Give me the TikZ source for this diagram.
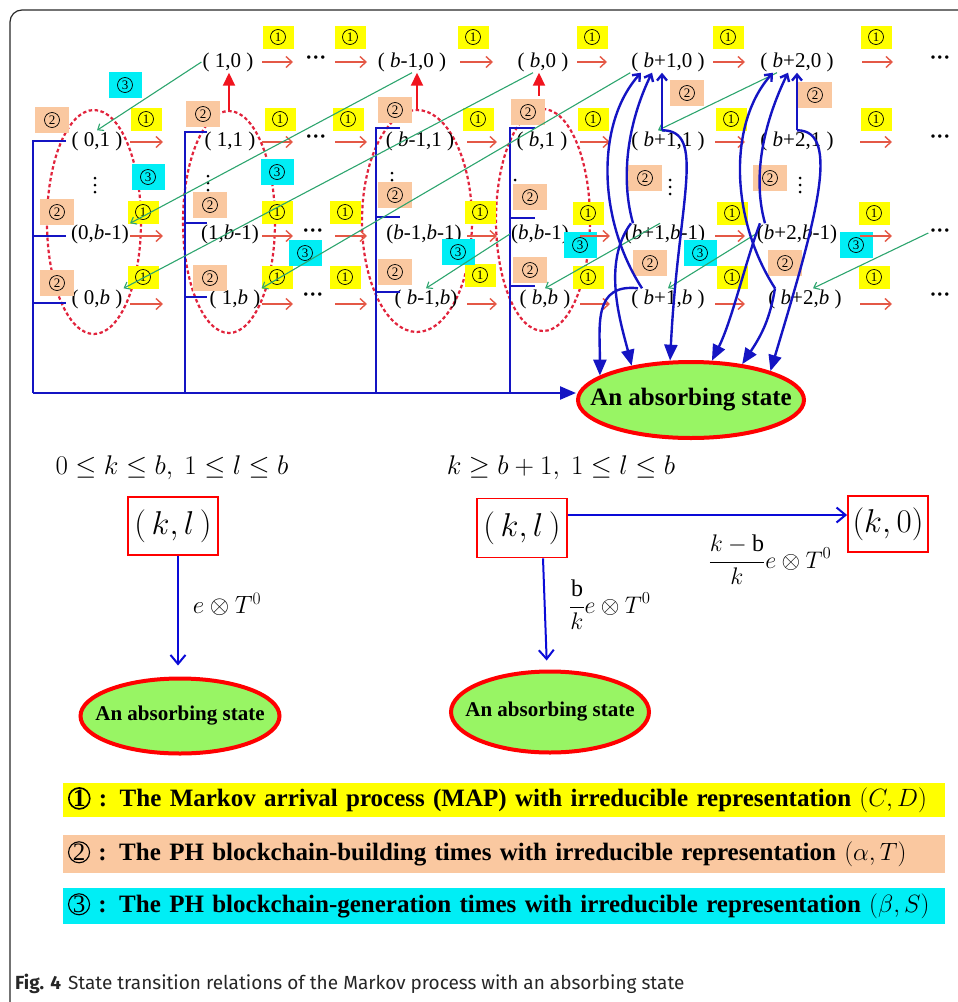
\RequirePackage{fix-cm}
\documentclass[tikz,border=0pt]{standalone}
\usepackage{fontspec}
\setmainfont{Liberation Serif}
\newfontfamily\capfont{Fira Sans}
\usetikzlibrary{arrows.meta,shapes.geometric,positioning}

\definecolor{tagyel}{RGB}{255,255,0}
\definecolor{tagpch}{RGB}{250,200,160}
\definecolor{tagcyan}{RGB}{0,238,245}
\definecolor{ringred}{RGB}{225,35,60}
\definecolor{arrred}{RGB}{228,88,70}
\definecolor{upred}{RGB}{240,20,30}
\definecolor{genline}{RGB}{45,165,110}
\definecolor{absblue}{RGB}{20,20,195}
\definecolor{abslime}{RGB}{152,245,100}
\definecolor{lowblue}{RGB}{10,10,215}
\definecolor{framecol}{RGB}{40,40,40}

% circled digit: line width, size, digit
\newcommand{\cdig}[3]{\tikz[baseline=-0.33em]\node[circle, draw, line width=#1, minimum size=#2, inner sep=0pt] {#3};}

\tikzset{
  st/.style={inner sep=1pt, font=\fontsize{21}{21}\selectfont},
  tag/.style={inner sep=0pt, font=\fontsize{13}{13}\selectfont},
  one/.style={tag, fill=tagyel, minimum width=31, minimum height=23},
  two/.style={tag, fill=tagpch, minimum width=34, minimum height=26},
  three/.style={tag, fill=tagcyan, minimum width=33, minimum height=26},
  ring/.style={ellipse, draw=ringred, line width=2.2pt, inner sep=0pt, dash pattern=on 3.5pt off 2.5pt},
  harr/.style={draw=arrred, line width=1.4pt, -{Straight Barb[length=6pt,width=11pt]}},
  uparr/.style={draw=upred, line width=2pt, -{Triangle[length=13pt,width=12pt]}},
  gen/.style={draw=genline, line width=1.1pt, -{Straight Barb[length=5pt,width=8pt]}},
  absln/.style={draw=absblue, line width=2.4pt},
  bup/.style={absln, -{Straight Barb[length=6pt,width=10pt]}},
  bdn/.style={absln, -{Triangle[length=16pt,width=13pt]}},
  absorb/.style={ellipse, draw=red, line width=4pt, fill=abslime, inner sep=0pt},
  kbox/.style={draw=red, line width=1.8pt, inner sep=0pt, font=\fontsize{33}{33}\selectfont},
  cond/.style={inner sep=0pt, font=\fontsize{27}{27}\selectfont},
  low/.style={draw=lowblue, line width=2pt, -{Straight Barb[length=9pt,width=15pt]}},
  legend/.style={minimum width=882, text width=872pt, inner xsep=5pt, inner ysep=0pt, align=left,
    font=\bfseries\fontsize{25}{25}\selectfont}
}

\begin{document}
\begin{tikzpicture}[x=1pt, y=-1pt]
\useasboundingbox (0,0) rectangle (958,1002);
\draw[framecol, line width=1.2pt, rounded corners=12pt] (10,1002) -- (10,10) -- (958,10);

% groups of one k
\node[ring, minimum width=94, minimum height=224] (c0) at (94,222) {};
\node[ring, minimum width=92, minimum height=222] (c1) at (229,222) {};
\node[ring, minimum width=110, minimum height=222] (cm) at (417,221) {};
\node[ring, minimum width=94, minimum height=222] (cb) at (543,220) {};

% states
\foreach \n/\x/\y/\t in {s10/228/62/{( 1,0 )}, sm0/412/62/{( \textit{b}-1,0 )}, sb0/543/62/{( \textit{b},0 )},
    sp0/668/62/{( \textit{b}+1,0 )}, sq0/797/62/{( \textit{b}+2,0 )},
    s01/97/141/{( 0,1 )}, s11/230/141/{( 1,1 )}, sm1/420/141/{( \textit{b}-1,1 )}, sb1/542/141/{( \textit{b},1 )},
    sp1/668/141/{( \textit{b}+1,1 )}, sq1/797/141/{( \textit{b}+2,1 )},
    s0m/100/234/{(0,\textit{b}-1)}, s1m/230/234/{(1,\textit{b}-1)}, smm/424/234/{(\textit{b}-1,\textit{b}-1)},
    sbm/540/234/{(\textit{b},\textit{b}-1)}, spm/665/234/{(\textit{b}+1,\textit{b}-1)}, sqm/797/234/{(\textit{b}+2,\textit{b}-1)},
    s0b/97/299/{( 0,\textit{b} )}, s1b/235/299/{( 1,\textit{b} )}, smb/426/299/{( \textit{b}-1,\textit{b})},
    sbb/545/299/{( \textit{b},\textit{b} )}, spb/668/299/{( \textit{b}+1,\textit{b} )}, sqb/805/299/{( \textit{b}+2,\textit{b} )}}
  \node[st] (\n) at (\x,\y) {\t};

\foreach \n/\x/\y in {d0/316/60, d1/316/139, dm/313/233, db/313/297, e0/940/60, e1/940/139, em/940/233, eb/940/297}
  \node[st] (\n) at (\x,\y) {\textbf{···}};
% vertical dots
\foreach \n/\x/\y in {v0/95/185, v1/208/183, vm/392/180, vp/670/187, vq/800/185} {
  \coordinate (\n) at (\x,\y);
  \foreach \d in {-7,0,7} \fill ([yshift=\d pt]\n) circle[radius=1.5pt];
}
\coordinate (vb) at (515,180);
\fill (vb) circle[radius=1.5pt];

% rates
\foreach \x/\y [count=\i] in {278/37, 350/37, 473/37, 592/37, 728/37, 876/37,
    146/119, 280/119, 348/119, 478/119, 593/119, 731/119, 876/119,
    143/212, 277/212, 345/212, 480/212, 588/213, 732/213, 874/213,
    143/277, 277/277, 345/277, 480/275, 588/277, 732/277, 874/277}
  \node[one] (o\i) at (\x,\y) {\cdig{0.7pt}{15pt}{1}};
\foreach \x/\y [count=\i] in {52/120, 57/212, 57/283, 203/114, 210/205, 210/278, 395/110, 395/195, 395/272,
    528/112, 530/197, 530/270, 687/93, 645/178, 650/263, 815/95, 770/178, 785/263}
  \node[two] (w\i) at (\x,\y) {\cdig{0.7pt}{15pt}{2}};
\foreach \x/\y [count=\i] in {125/85, 148/177, 277/172, 305/253, 458/252, 580/245, 700/253, 856/245}
  \node[three] (h\i) at (\x,\y) {\cdig{0.7pt}{15pt}{3}};

% red arrows
\foreach \a/\b in {262/293, 335/367, 460/493, 577/607, 713/745, 862/893}
  \draw[harr] (\a,62) -- (\b,62);
\foreach \y in {142,236,304}
  \foreach \a/\b in {130/163, 262/293, 335/367, 467/497, 580/610, 715/745, 860/892}
    \draw[harr] (\a,\y) -- (\b,\y);
\draw[uparr] (c1.north) -- (c1.north |- s10.south);
\draw[uparr] (cm.north) -- (cm.north |- sm0.south);
\draw[uparr, shorten <=12pt] ([xshift=-4]cb.north) -- ([xshift=-4]cb.north |- sb0.south);

% absorbing
\node[absorb, minimum width=226, minimum height=76, font=\bfseries\fontsize{25}{25}\selectfont] (abs) at (691,400)
  {\makebox[0pt]{An absorbing state}};
\coordinate (bl) at (33,393);
\foreach \x/\t/\m/\b/\w in {33/141/236/303/33, 185/132/223/297/22, 376/128/217/292/24, 510/128/218/286/25}
  \draw[absln] (\x+\w,\t) -- (\x,\t) -- (\x,393) (\x,\m) -- +(\w,0) (\x,\b) -- +(\w,0);
\draw[absln, -{Triangle[length=16pt,width=13pt]}] (bl) -- (bl -| abs.west);

% green
\draw[gen] (s10.west) -- (s01.north);
\draw[gen] (sm0.south) -- (s0m.north east);
\draw[gen] ([xshift=-10]sb0.south) -- (s0b.north east);
\draw[gen] (sp0.south west) -- (s1b.north east);
\draw[gen] ([xshift=-20]sq0.south) -- ([xshift=-10]sp1.north);
\draw[gen] (sbm.west) -- (smb.north);
\draw[gen] ([xshift=-5]spm.north) -- (sbb.north);
\draw[gen] (sqm.west) -- (spb.north);
\draw[gen] (em.west) -- ([xshift=8]sqb.north);

% b+1
\draw[bup] ([xshift=-6]sp1.north) -- ([xshift=-6]sp0.south);
\draw[bup] ([xshift=-32]spm.north) .. controls +(-14,-50) and +(-22,45) .. ([xshift=-16]sp0.south);
\draw[bup] ([xshift=-26]spb.north) .. controls +(-45,-70) and +(-45,50) .. ([xshift=-27]sp0.south);
\draw[bdn] ([xshift=-6]sp1.north) .. controls +(45,0) and +(8,-160) .. (abs.118);
\draw[bdn] ([xshift=-34]spm.north) .. controls +(-30,40) and +(-10,-40) .. (abs.150);
\draw[bdn] ([xshift=-30]spb.north) .. controls +(-45,-5) and +(0,-50) .. (abs.165);
% b+2
\draw[bup] (sq1.north) -- (sq0.south);
\draw[bup] ([xshift=-32]sqm.north) .. controls +(-14,-50) and +(-22,45) .. ([xshift=-9]sq0.south);
\draw[bup] ([xshift=-30]sqb.north) .. controls +(-45,-70) and +(-45,50) .. ([xshift=-24]sq0.south);
\draw[bdn] (sq1.north) .. controls +(45,0) and +(45,-150) .. (abs.20);
\draw[bdn] ([xshift=-37]sqm.north) .. controls +(-15,40) and +(20,-40) .. (abs.62);
\draw[bdn] ([xshift=-30]sqb.north) .. controls +(-5,30) and +(20,-30) .. (abs.35);

% the two cases
\node[cond] (cnd1) at (172,468) {$0\le k\le b,\ 1\le l\le b$};
\node[cond] (cnd2) at (561,468) {$k\ge b+1,\ 1\le l\le b$};
\node[kbox, minimum width=90, minimum height=58] (kl1) at (173,526) {$\bigl(\,k,l\,\bigr)$};
\node[kbox, minimum width=90, minimum height=59] (kl2) at (522,528) {$\bigl(\,k,l\,\bigr)$};
\node[kbox, minimum width=80, minimum height=56] (k0) at (888,524) {$\bigl(k,0\bigr)$};
\node[absorb, minimum width=199, minimum height=75, font=\bfseries\fontsize{21}{21}\selectfont] (ab1) at (180,716)
  {\makebox[0pt]{An absorbing state}};
\node[absorb, minimum width=198, minimum height=81, font=\bfseries\fontsize{21}{21}\selectfont] (ab2) at (550,712)
  {\makebox[0pt]{An absorbing state}};
\draw[low, shorten >=11pt] ([xshift=5]kl1.south) -- ([xshift=-2]ab1.north);
\draw[low, shorten >=9pt] ([xshift=21]kl2.south) -- ([xshift=-3]ab2.north);
\draw[low] ([yshift=13]kl2.east) -- ([yshift=9]k0.west);
\node[font=\fontsize{25}{25}\selectfont] (lb1) at (227,604) {$e\otimes T^0$};
\node[font=\fontsize{24}{24}\selectfont] (lb2) at (610,605) {$\displaystyle\frac{\mathrm{b}}{k}e\otimes T^0$};
\node[font=\fontsize{24}{24}\selectfont] (lb3) at (770,560) {$\displaystyle\frac{k-\mathrm{b}}{k}e\otimes T^0$};

% key
\node[legend, fill=tagyel, minimum height=34] (lg1) at (504,800)
  {\cdig{1.6pt}{21pt}{1}~: The Markov arrival process (MAP) with irreducible representation $\bigl(C,D\bigr)$};
\node[legend, fill=tagpch, minimum height=38] (lg2) at (504,854)
  {\cdig{1.1pt}{21pt}{\mdseries 2}~: The PH blockchain-building times with irreducible representation $\bigl(\alpha,T\bigr)$};
\node[legend, fill=tagcyan, minimum height=36] (lg3) at (504,906)
  {\cdig{1.1pt}{21pt}{\mdseries 3}~: The PH blockchain-generation times with irreducible representation $\bigl(\beta,S\bigr)$};

\node[anchor=west, inner sep=0pt, text=black!85, font=\capfont\fontsize{19}{19}\selectfont] (cap) at (15,984)
  {\textbf{Fig. 4}\hspace{7pt}State transition relations of the Markov process with an absorbing state};
\end{tikzpicture}
\end{document}
